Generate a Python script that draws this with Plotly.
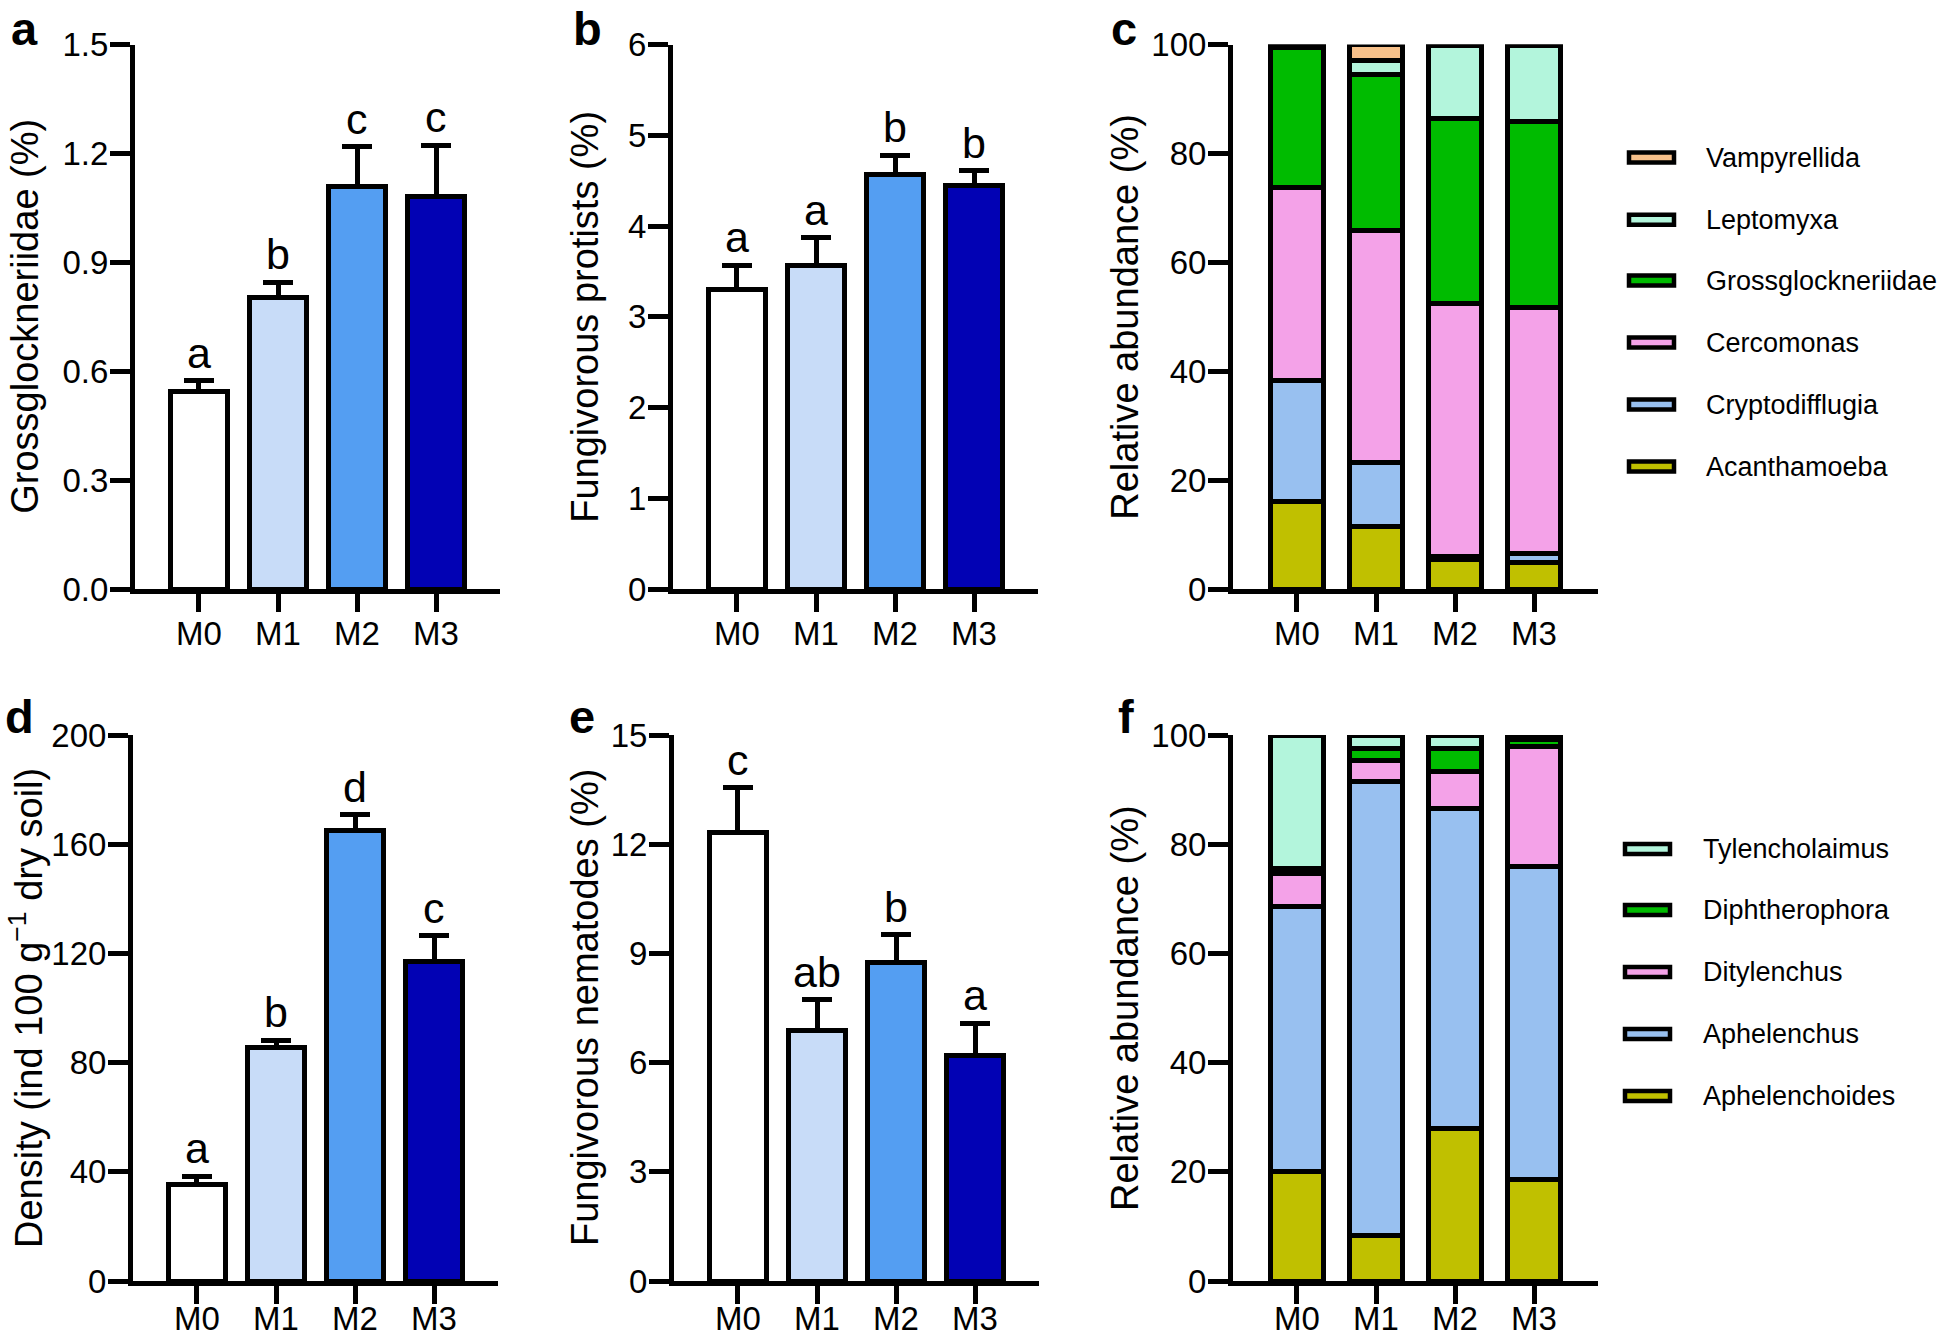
import plotly.graph_objects as go

W, H = 1946, 1339
FONT = "Liberation Sans, Arial, Helvetica, sans-serif"

groups = ["M0", "M1", "M2", "M3"]
group_colors = ["#ffffff", "#c8dcf8", "#549ef2", "#0202b4"]

# panel a
grossglock_mean = [0.544, 0.804, 1.109, 1.080]
grossglock_se = [0.030, 0.041, 0.109, 0.142]
grossglock_letters = ["a", "b", "c", "c"]
# panel b
protist_mean = [3.30, 3.56, 4.57, 4.45]
protist_se = [0.27, 0.31, 0.21, 0.16]
protist_letters = ["a", "a", "b", "b"]
# panel d
density_mean = [35.4, 85.5, 165.1, 116.9]
density_se = [2.9, 2.6, 5.7, 9.6]
density_letters = ["a", "b", "d", "c"]
# panel e
nematode_mean = [12.32, 6.88, 8.74, 6.20]
nematode_se = [1.23, 0.84, 0.77, 0.88]
nematode_letters = ["c", "ab", "b", "a"]

# panel c (stack order bottom -> top)
protist_taxa = ["Acanthamoeba", "Cryptodifflugia", "Cercomonas",
                "Grossglockneriidae", "Leptomyxa", "Vampyrellida"]
protist_taxa_colors = ["#c0c000", "#98c0f0", "#f4a2e8", "#00bb00", "#b3f5dc", "#f7c08a"]
acanthamoeba = [16.0, 11.4, 5.4, 4.9]
cryptodifflugia = [22.3, 11.8, 0.5, 1.7]
cercomonas = [35.5, 42.6, 46.6, 45.1]
grossglockneriidae = [25.7, 28.6, 34.0, 34.1]
leptomyxa = [0.3, 2.6, 13.3, 14.0]
vampyrellida = [0.2, 3.0, 0.2, 0.2]
protist_stack = [acanthamoeba, cryptodifflugia, cercomonas,
                 grossglockneriidae, leptomyxa, vampyrellida]

# panel f (stack order bottom -> top)
nematode_taxa = ["Aphelenchoides", "Aphelenchus", "Ditylenchus",
                 "Diphtherophora", "Tylencholaimus"]
nematode_taxa_colors = ["#c0c000", "#98c0f0", "#f4a2e8", "#00bb00", "#b3f5dc"]
aphelenchoides = [20.1, 8.4, 27.9, 18.6]
aphelenchus = [48.5, 83.1, 58.6, 57.3]
ditylenchus = [6.0, 3.8, 6.9, 22.0]
diphtherophora = [0.9, 2.3, 4.2, 1.3]
tylencholaimus = [24.5, 2.4, 2.4, 0.8]
nematode_stack = [aphelenchoides, aphelenchus, ditylenchus, diphtherophora, tylencholaimus]

# ---------------- layout geometry (pixels) ----------------
ROW1 = (44.5, 589)
ROW2 = (735, 1281)
PLOT_W = 365
XR = [-0.81, 3.81]


def px_x(x):
    return x / W


def px_y(y):
    return 1 - y / H


panels = [
    dict(label="a", x0=135, row=ROW1, title="Grossglockneriidae (%)", tx=25,
         yr=[0, 1.5], dt=0.3, fmt=".1f"),
    dict(label="b", x0=673, row=ROW1, title="Fungivorous protists (%)", tx=585,
         yr=[0, 6], dt=1, fmt="d"),
    dict(label="c", x0=1233, row=ROW1, title="Relative abundance (%)", tx=1125,
         yr=[0, 100], dt=20, fmt="d"),
    dict(label="d", x0=133, row=ROW2, title="Density (ind 100 g<sup>−1</sup> dry soil)", tx=26,
         yr=[0, 200], dt=40, fmt="d"),
    dict(label="e", x0=674, row=ROW2, title="Fungivorous nematodes (%)", tx=585,
         yr=[0, 15], dt=3, fmt="d"),
    dict(label="f", x0=1233, row=ROW2, title="Relative abundance (%)", tx=1125,
         yr=[0, 100], dt=20, fmt="d"),
]
label_pos = {"a": (24, 28), "b": (587, 28), "c": (1124, 28),
             "d": (19, 716), "e": (582, 716), "f": (1126, 716)}

fig = go.Figure()
layout = dict(width=W, height=H, margin=dict(l=0, r=0, t=0, b=0, pad=0, autoexpand=False),
              paper_bgcolor="white", plot_bgcolor="white", showlegend=False,
              barmode="stack", font=dict(family=FONT, color="black"))
annotations = []
shapes = []

for i, p in enumerate(panels):
    n = "" if i == 0 else str(i + 1)
    ytop, ybot = p["row"]
    layout["xaxis" + n] = dict(
        domain=[px_x(p["x0"]), px_x(p["x0"] + PLOT_W)], range=XR, anchor="y" + n,
        tickmode="array", tickvals=[0, 1, 2, 3], ticktext=groups, automargin=False,
        showline=True, linecolor="black", linewidth=5, ticks="outside",
        ticklen=18, tickwidth=5, tickcolor="black", showgrid=False, zeroline=False,
        ticklabelstandoff=-7 if p["row"] is ROW1 else -14,
        tickfont=dict(size=33, family=FONT, color="black"), fixedrange=True)
    nt = int(round((p["yr"][1] - p["yr"][0]) / p["dt"]))
    tv = [p["yr"][0] + k * p["dt"] for k in range(nt + 1)]
    layout["yaxis" + n] = dict(
        domain=[px_y(ybot), px_y(ytop)], range=p["yr"], anchor="x" + n,
        tickmode="array", tickvals=tv, automargin=False,
        ticktext=[format(v, p["fmt"]) if p["fmt"] != "d" else str(int(round(v))) for v in tv],
        showline=True, linecolor="black", linewidth=5, ticks="outside",
        ticklen=20, tickwidth=5, tickcolor="black", showgrid=False, zeroline=False,
        ticklabelstandoff=-5,
        tickfont=dict(size=33, family=FONT, color="black"), fixedrange=True)
    # y axis title
    annotations.append(dict(
        x=px_x(p["tx"]), y=px_y((ytop + ybot) / 2), xref="paper", yref="paper",
        text=p["title"], textangle=-90, showarrow=False, xanchor="center", yanchor="middle",
        font=dict(size=38, family=FONT, color="black")))
    # panel label
    lx, ly = label_pos[p["label"]]
    annotations.append(dict(
        x=px_x(lx), y=px_y(ly), xref="paper", yref="paper", text="<b>%s</b>" % p["label"],
        showarrow=False, xanchor="center", yanchor="middle",
        font=dict(size=47, family=FONT, color="black")))

xs = [0, 1, 2, 3]
bar_sets = [(0, grossglock_mean, grossglock_se, grossglock_letters),
            (1, protist_mean, protist_se, protist_letters),
            (3, density_mean, density_se, density_letters),
            (4, nematode_mean, nematode_se, nematode_letters)]
for idx, mean, se, letters in bar_sets:
    n = "" if idx == 0 else str(idx + 1)
    fig.add_trace(go.Bar(
        x=xs, y=mean, width=0.71, xaxis="x" + n, yaxis="y" + n,
        marker=dict(color=group_colors, line=dict(color="black", width=5)),
        error_y=dict(type="data", array=se, arrayminus=[0] * 4, symmetric=False,
                     color="black", thickness=5, width=15),
        hoverinfo="skip"))
    for k in range(4):
        annotations.append(dict(
            x=xs[k], y=mean[k] + se[k], xref="x" + n, yref="y" + n, text=letters[k],
            showarrow=False, xanchor="center", yanchor="bottom", yshift=2,
            font=dict(size=43, family=FONT, color="black")))

# stacked panels
for idx, stack, names, cols in [(2, protist_stack, protist_taxa, protist_taxa_colors),
                                 (5, nematode_stack, nematode_taxa, nematode_taxa_colors)]:
    n = str(idx + 1)
    for vals, name, col in zip(stack, names, cols):
        fig.add_trace(go.Bar(
            x=xs, y=vals, width=0.68, name=name, xaxis="x" + n, yaxis="y" + n,
            marker=dict(color=col, line=dict(color="black", width=5)),
            hoverinfo="skip"))

# manual legends (top item = top of stack)
legend_specs = [
    (protist_taxa, protist_taxa_colors, 1627, 1704, [466.6, 404.6, 342.5, 280.5, 219.7, 157.6]),
    (nematode_taxa, nematode_taxa_colors, 1623, 1701, [1096, 1034, 972, 910, 849]),
]
for names, cols, rx, tx, ys in legend_specs:
    for name, col, yc in zip(names, cols, ys):
        shapes.append(dict(type="rect", xref="paper", yref="paper",
                           x0=px_x(rx + 2), x1=px_x(rx + 47), y0=px_y(yc + 5), y1=px_y(yc - 5),
                           fillcolor=col, line=dict(color="black", width=4.5)))
        annotations.append(dict(
            x=px_x(tx), y=px_y(yc), xref="paper", yref="paper", text=name,
            showarrow=False, xanchor="left", yanchor="middle",
            font=dict(size=27, family=FONT, color="black")))

layout["annotations"] = annotations
layout["shapes"] = shapes
fig.update_layout(**layout)
fig.write_html("out.html", config={"displayModeBar": False},
               post_script="document.body.style.margin='0px';document.body.style.padding='0px';")
